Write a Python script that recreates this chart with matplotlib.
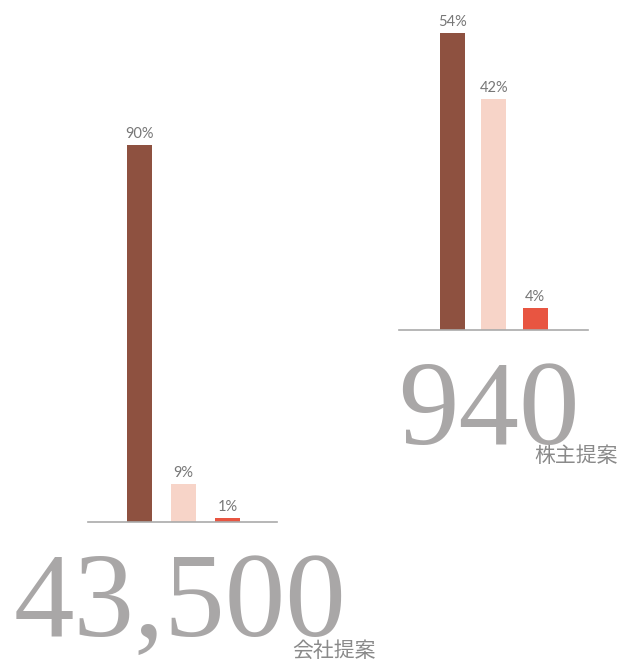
import matplotlib
matplotlib.use('Agg')
import matplotlib.pyplot as plt
import numpy as np

# data
company_share = [90, 9, 1]
shareholder_share = [54, 42, 4]
company_total = '43,500'
shareholder_total = '940'
company_label = '会社提案'
shareholder_label = '株主提案'

bar_colors = ['#8E5140', '#F7D4C8', '#E85541']
W, H = 620, 662

fig = plt.figure(figsize=(W / 100, H / 100), dpi=100)


def px_axes(x0, x1, y_base, y_top):
    # pixel box (from top-left) -> figure fraction
    return fig.add_axes([x0 / W, (H - y_base) / H, (x1 - x0) / W, (y_base - y_top) / H])


def draw_group(ax, values, ymax, xlim, width):
    x = np.arange(len(values))
    bars = ax.bar(x, values, width=width, color=bar_colors)
    for b, v in zip(bars, values):
        ax.annotate('%d%%' % v, (b.get_x() + b.get_width() / 2, v), xytext=(0, 3),
                    textcoords='offset points', ha='center', va='bottom',
                    fontsize=10.5, color='#777777', family='Lato')
    ax.set_ylim(0, ymax)
    ax.set_xlim(*xlim)
    for s in ['top', 'left', 'right']:
        ax.spines[s].set_visible(False)
    ax.spines['bottom'].set_color('#aaaaaa')
    ax.spines['bottom'].set_linewidth(1.2)
    ax.set_xticks([])
    ax.set_yticks([])
    ax.patch.set_alpha(0)


ax1 = px_axes(88, 277, 522, 103)
draw_group(ax1, company_share, 100, (-1.17, 3.125), 0.57)

ax2 = px_axes(399, 588, 330, 0)
draw_group(ax2, shareholder_share, 60, (-1.29, 3.27), 0.6)

big = dict(family='Liberation Serif', color='#a9a7a7', fontsize=87, va='baseline', ha='left')
fig.text(14 / W, (H - 636) / H, company_total, **big)
fig.text(398 / W, (H - 444) / H, shareholder_total, **big)

small = dict(family=['Noto Sans CJK JP', 'DejaVu Sans'], color='#8a8a8a', fontsize=15,
             va='baseline', ha='right')
fig.text(376 / W, (H - 657) / H, company_label, **small)
fig.text(618 / W, (H - 462) / H, shareholder_label, **small)

fig.savefig('out.png', dpi=100, facecolor='white')
